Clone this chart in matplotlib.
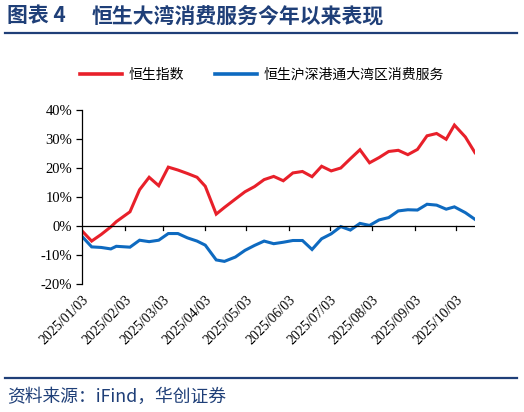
import numpy as np
import pandas as pd
import matplotlib
matplotlib.use('Agg')
import matplotlib.pyplot as plt
import matplotlib.dates as mdates
from matplotlib.lines import Line2D
from matplotlib.ticker import FuncFormatter, MultipleLocator

plt.rcParams['font.family'] = ['Noto Sans CJK SC', 'DejaVu Sans']

# weekly dates (last trading day of each week)
dates = pd.to_datetime([
    '2025-01-03', '2025-01-10', '2025-01-17', '2025-01-24', '2025-01-28',
    '2025-02-07', '2025-02-14', '2025-02-21', '2025-02-28', '2025-03-07',
    '2025-03-14', '2025-03-21', '2025-03-28', '2025-04-03', '2025-04-11',
    '2025-04-17', '2025-04-25', '2025-05-02', '2025-05-09', '2025-05-16',
    '2025-05-23', '2025-05-30', '2025-06-06', '2025-06-13', '2025-06-20',
    '2025-06-27', '2025-07-04', '2025-07-11', '2025-07-18', '2025-07-25',
    '2025-08-01', '2025-08-08', '2025-08-15', '2025-08-22', '2025-08-29',
    '2025-09-05', '2025-09-12', '2025-09-19', '2025-09-26', '2025-10-02',
    '2025-10-10', '2025-10-17',
])

# 恒生指数 YTD return, %
hsi = [-1.7, -5.2, -2.9, -0.3, 1.5, 4.9, 12.5, 16.8, 13.9, 20.3,
       19.3, 18.1, 16.8, 13.7, 4.1, 6.4, 9.3, 11.8, 13.6, 16.0,
       17.1, 15.6, 18.3, 18.8, 17.0, 20.6, 19.0, 20.0, 23.2, 26.3,
       21.8, 23.6, 25.7, 26.1, 24.6, 26.4, 31.1, 31.9, 29.9, 34.8,
       30.7, 25.3]

# 恒生沪深港通大湾区消费服务 YTD return, %
gba = [-3.6, -7.2, -7.4, -7.9, -7.0, -7.3, -4.9, -5.4, -4.9, -2.6,
       -2.6, -4.1, -5.2, -6.6, -11.7, -12.2, -10.7, -8.4, -6.7, -5.2,
       -6.1, -5.6, -5.0, -5.0, -8.1, -4.4, -2.7, -0.2, -1.4, 0.9,
       0.2, 2.1, 2.9, 5.2, 5.6, 5.5, 7.5, 7.2, 5.8, 6.6,
       4.6, 2.3]

tick_dates = pd.date_range('2025-01-01', '2025-10-01', freq='MS') + pd.Timedelta(days=2)

title_no = '图表 4'
title = '恒生大湾消费服务今年以来表现'
source = '资料来源：iFind，华创证券'
labels = ['恒生指数', '恒生沪深港通大湾区消费服务']

red = '#E8202A'
blue = '#0E6AC0'
navy = '#1F3F78'

fig = plt.figure(figsize=(5.24, 4.12), dpi=100)
ax = fig.add_axes([82 / 524, 1 - 284 / 412, (475 - 82) / 524, (284 - 110) / 412])

ax.plot(dates, hsi, color=red, lw=2.2, solid_joinstyle='miter')
ax.plot(dates, gba, color=blue, lw=2.2, solid_joinstyle='miter')

x0 = mdates.date2num(dates[0])
x1 = mdates.date2num(dates[-1])
ax.set_xlim(x0 - 0.05, x1 + 0.05)
ax.set_ylim(-20, 40)
ax.yaxis.set_major_locator(MultipleLocator(10))
ax.yaxis.set_major_formatter(FuncFormatter(lambda v, p: f'{v:.0f}%'))

for s in ['top', 'right', 'bottom']:
    ax.spines[s].set_visible(False)
ax.spines['left'].set_color('black')
ax.spines['left'].set_linewidth(0.9)
ax.axhline(0, color='black', lw=0.9)

ax.set_xticks(mdates.date2num(tick_dates))
ax.xaxis.set_major_formatter(mdates.DateFormatter('%Y/%m/%d'))
ax.tick_params(axis='x', length=0, pad=7)
ax.tick_params(axis='y', length=4, width=0.9, direction='out', pad=3)

serif = 'Liberation Serif'
for t in ax.get_yticklabels():
    t.set_fontfamily(serif)
    t.set_fontsize(10.5)
for t in ax.get_xticklabels():
    t.set_fontfamily(serif)
    t.set_fontsize(10)
    t.set_rotation(45)
    t.set_ha('right')
    t.set_va('top')
    t.set_rotation_mode('anchor')

# small ticks hanging from the zero line
for d in mdates.date2num(tick_dates[1:]):
    ax.plot([d, d], [0, -1.4], color='black', lw=0.9, clip_on=False)

# title and rules
fig.text(7 / 524, 1 - 16 / 412, title_no, fontsize=15, fontweight='bold', color=navy,
         va='center', ha='left')
fig.text(92 / 524, 1 - 16 / 412, title, fontsize=15, fontweight='bold', color=navy,
         va='center', ha='left')
fig.add_artist(Line2D([5 / 524, 517 / 524], [1 - 32.5 / 412] * 2, color=navy, lw=1.6))
fig.add_artist(Line2D([5 / 524, 517 / 524], [1 - 378 / 412] * 2, color=navy, lw=1.6))
fig.text(7 / 524, 1 - 397 / 412, source, fontsize=12.8, color=navy, style='italic',
         va='center', ha='left')

# legend
handles = [Line2D([], [], color=red, lw=2.6), Line2D([], [], color=blue, lw=2.6)]
fig.legend(handles, labels, loc='center', bbox_to_anchor=(262 / 524, 1 - 75 / 412),
           ncol=2, frameon=False, fontsize=10, handlelength=3.0, columnspacing=2.2,
           handletextpad=0.5)

fig.savefig('out.png', dpi=100)
